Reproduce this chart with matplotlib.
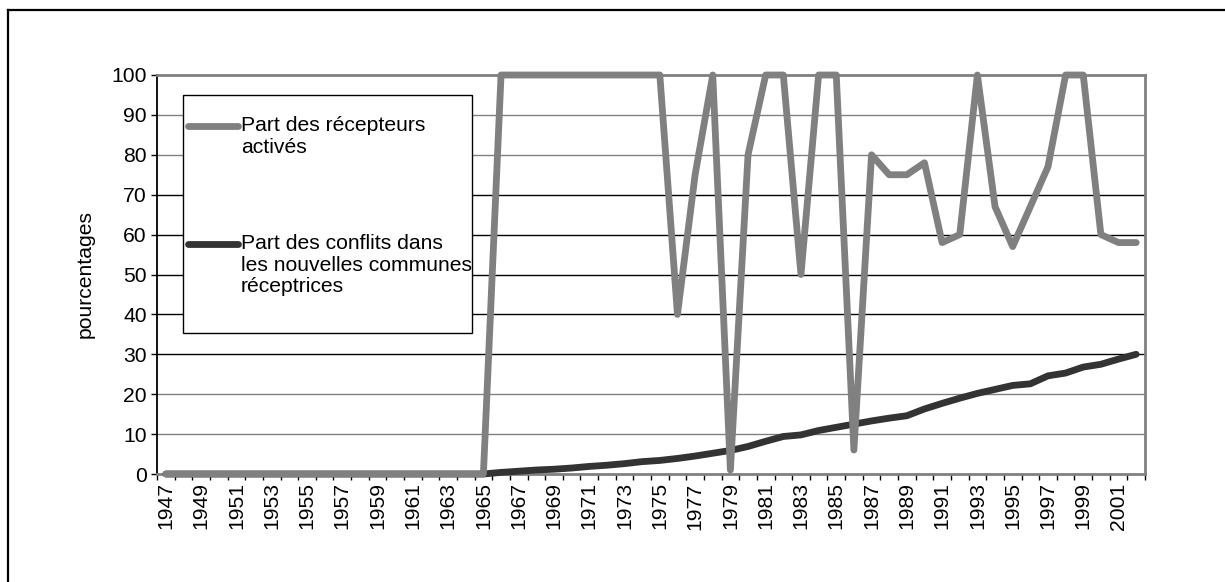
import matplotlib
matplotlib.use("Agg")
import matplotlib.pyplot as plt
from matplotlib.lines import Line2D
from matplotlib.patches import Rectangle

plt.rcParams["font.family"] = ["Liberation Sans", "DejaVu Sans"]

years = list(range(1947, 2003))

recepteurs_actives = [
    0, 0, 0, 0, 0, 0, 0, 0, 0, 0,          # 1947-1956
    0, 0, 0, 0, 0, 0, 0, 0, 0,             # 1957-1965
    100, 100, 100, 100, 100, 100, 100, 100, 100, 100,  # 1966-1975
    40, 75, 100, 1, 80, 100, 100, 50, 100, 100,        # 1976-1985
    6, 80, 75, 75, 78, 58, 60, 100, 67, 57,            # 1986-1995
    67, 77, 100, 100, 60, 58, 58,                      # 1996-2002
]

conflits_nouvelles = [
    0, 0, 0, 0, 0, 0, 0, 0, 0, 0,          # 1947-1956
    0, 0, 0, 0, 0, 0, 0, 0, 0,             # 1957-1965
    0.4, 0.7, 1.0, 1.2, 1.5, 1.9, 2.2, 2.6, 3.1, 3.4,  # 1966-1975
    3.9, 4.5, 5.2, 5.9, 6.9, 8.2, 9.4, 9.8, 10.9, 11.7,  # 1976-1985
    12.5, 13.3, 14.0, 14.6, 16.3, 17.7, 19.0, 20.2, 21.2, 22.2,  # 1986-1995
    22.6, 24.6, 25.3, 26.8, 27.5, 28.8, 30.0,          # 1996-2002
]

y_ticks = list(range(0, 101, 10))
series_labels = [
    "Part des récepteurs\nactivés",
    "Part des conflits dans\nles nouvelles communes\nréceptrices",
]

GREY = "#808080"
DARK = "#333333"
FS = 15.2
LW = 4.9

W, H = 1225, 582
fig = plt.figure(figsize=(W / 100, H / 100), dpi=100)


def fx(px):
    return px / W


def fy(py):
    return 1 - py / H


ax = fig.add_axes([fx(157), fy(474), fx(1145) - fx(157), fy(75) - fy(474)])

x = list(range(len(years)))

# horizontal grid lines
grid_colors = {10: GREY, 20: GREY, 30: "black", 40: "black", 50: "black",
               60: "black", 70: "black", 80: GREY, 90: GREY}
for v in y_ticks[1:-1]:
    ax.axhline(v, color=grid_colors[v], lw=1.0, zorder=1)

ax.plot(x, conflits_nouvelles, color=DARK, lw=LW,
        solid_capstyle="round", solid_joinstyle="round", zorder=3, clip_on=False)
ax.plot(x, recepteurs_actives, color=GREY, lw=LW,
        solid_capstyle="round", solid_joinstyle="round", zorder=4, clip_on=False)

ax.set_xlim(-0.5, len(years) - 0.5)
ax.set_ylim(0, 100)

# spines
ax.spines["left"].set_color("black")
ax.spines["left"].set_linewidth(1.3)
for s in ("top", "right", "bottom"):
    ax.spines[s].set_color(GREY)
    ax.spines[s].set_linewidth(2.0)

# y axis
ax.set_yticks(y_ticks)
ax.set_yticklabels([str(v) for v in y_ticks], fontsize=FS)
ax.tick_params(axis="y", direction="out", length=4.3, width=1.0, pad=3, color="black")
ax.set_ylabel("pourcentages", fontsize=FS, labelpad=12)

# x axis: ticks on category boundaries, labels on every second category
ax.set_xticks([i - 0.5 for i in range(len(years) + 1)])
ax.set_xticklabels([])
ax.tick_params(axis="x", which="major", direction="out", length=4.5, width=1.0, color="black")
ax.set_xticks(x[::2], minor=True)
ax.set_xticklabels([str(y) for y in years[::2]], minor=True, rotation=90, fontsize=FS)
ax.tick_params(axis="x", which="minor", length=0, pad=6)

# legend box
fig.patches.append(Rectangle((fx(183), fy(333)), fx(472) - fx(183), fy(95) - fy(333),
                             transform=fig.transFigure, facecolor="white",
                             edgecolor="black", lw=1.0, zorder=5))
legend_rows = [(126, 129, GREY), (244, 247, DARK)]
for (ly, ty, col), lab in zip(legend_rows, series_labels):
    fig.add_artist(Line2D([fx(188), fx(238)], [fy(ly), fy(ly)], color=col, lw=LW,
                          solid_capstyle="round", zorder=6))
    fig.text(fx(241), fy(ty - 13), lab, fontsize=FS, va="top", ha="left",
             linespacing=1.17, zorder=6)

# outer chart frame (top and left edges)
fig.add_artist(Line2D([fx(8), fx(W)], [fy(10), fy(10)], color="black", lw=1.6))
fig.add_artist(Line2D([fx(8), fx(8)], [fy(10), fy(H)], color="black", lw=1.6))

fig.savefig("out.png", dpi=100)
